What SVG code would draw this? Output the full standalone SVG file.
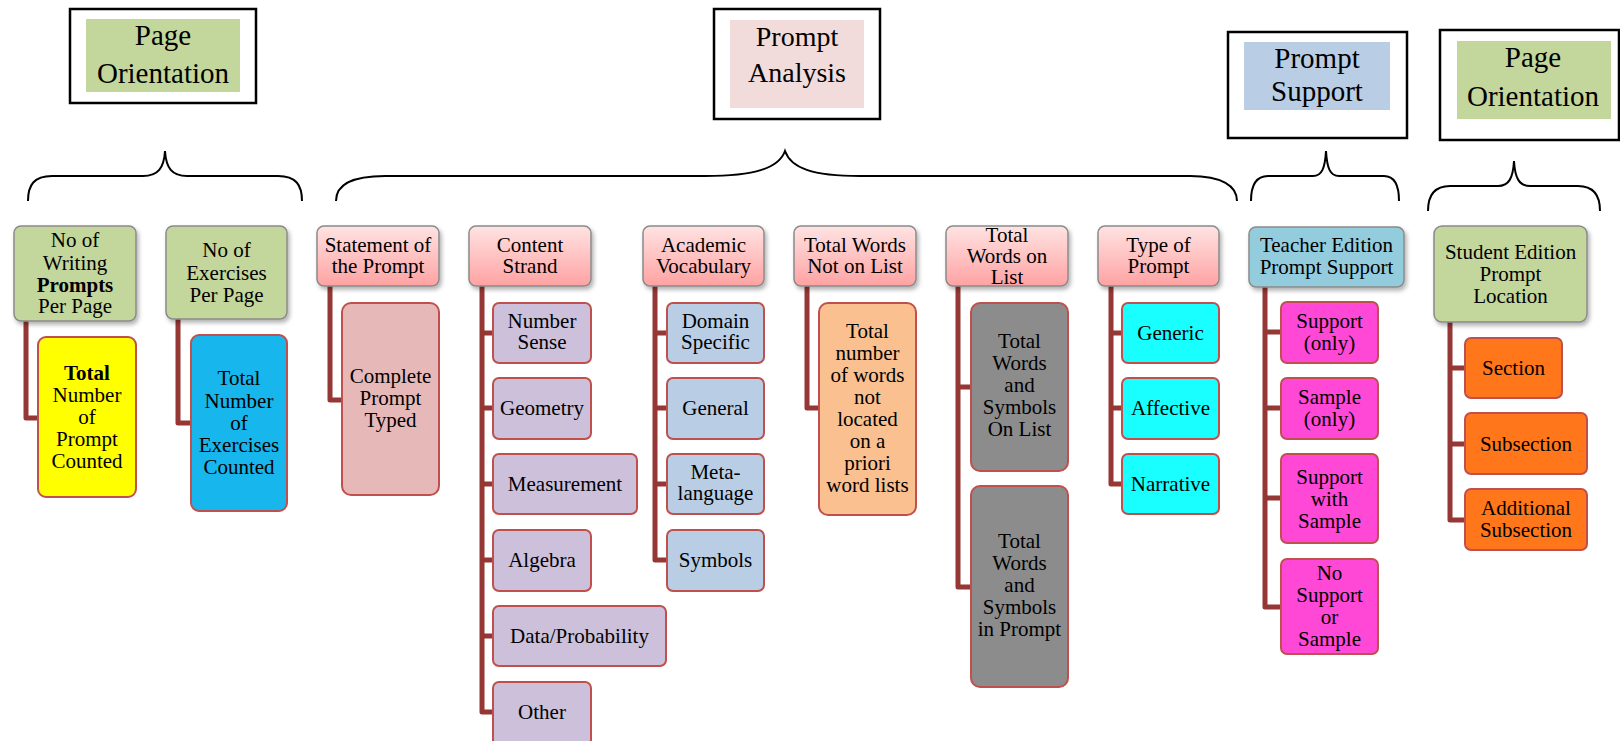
<svg xmlns="http://www.w3.org/2000/svg" width="1620" height="741" viewBox="0 0 1620 741" font-family="'Liberation Serif', 'Times New Roman', 'DejaVu Serif', serif">
  <style>
    text { font-family: 'Liberation Serif', 'Times New Roman', Times, 'DejaVu Serif', serif; fill: #000; text-anchor: middle; }
    .t { font-size: 21px; }
    .big { font-size: 29px; }
    .mid { font-size: 28px; }
    .b { font-weight: bold; }
    .hdr { stroke: #8a8a8a; stroke-width: 1.5; filter: url(#shadow); }
    .leaf { stroke: #c0504d; stroke-width: 2; }
    .conn { stroke: #953735; stroke-width: 5; fill: none; stroke-linejoin: round; }
    .frame { fill: #fff; stroke: #000; stroke-width: 2.5; }
    .brace { fill: none; stroke: #000; stroke-width: 2; }
    .green { fill: #c3d69b; }
    .pink { fill: url(#pinkGrad); }
  </style>
  <defs>
    <linearGradient id="pinkGrad" x1="0" y1="0" x2="0" y2="1">
      <stop offset="0" stop-color="#ffe3e3"/>
      <stop offset="1" stop-color="#ffa2a2"/>
    </linearGradient>
    <filter id="shadow" x="-10%" y="-10%" width="125%" height="130%">
      <feDropShadow dx="2" dy="3" stdDeviation="2" flood-color="#000" flood-opacity="0.3"/>
    </filter>
  </defs>

  <!-- category titles -->
  <g id="title-page-orientation-1">
    <rect class="frame" x="70" y="9" width="186" height="94"/>
    <rect x="86" y="19" width="154" height="73" fill="#c3d69b"/>
    <text class="big" x="163" y="45">Page</text>
    <text class="big" x="163" y="83">Orientation</text>
  </g>
  <g id="title-prompt-analysis">
    <rect class="frame" x="714" y="9" width="166" height="110"/>
    <rect x="730" y="20" width="134" height="88" fill="#f2dcdb"/>
    <text class="mid" x="797" y="46">Prompt</text>
    <text class="mid" x="797" y="82">Analysis</text>
  </g>
  <g id="title-prompt-support">
    <rect class="frame" x="1228" y="32" width="179" height="106"/>
    <rect x="1244" y="42" width="146" height="68" fill="#b9cde5"/>
    <text class="big" x="1317" y="68">Prompt</text>
    <text class="big" x="1317" y="101">Support</text>
  </g>
  <g id="title-page-orientation-2">
    <rect class="frame" x="1440" y="30" width="179" height="110"/>
    <rect x="1457" y="41" width="154" height="78" fill="#c3d69b"/>
    <text class="big" x="1533" y="67">Page</text>
    <text class="big" x="1533" y="106">Orientation</text>
  </g>

  <!-- curly braces -->
  <g id="braces">
    <path class="brace" d="M28,201 C28,185 34,176 52,176 H143 C158,176 164,168 165,151 C166,168 172,176 187,176 H278 C296,176 302,185 302,201"/>
    <path class="brace" d="M336,201 C336,186 350,176 385,176 H705 C755,176 779,168 785,151 C791,168 812,176 860,176 H1190 C1222,176 1237,186 1237,201"/>
    <path class="brace" d="M1251,201 C1251,186 1256,176 1268,176 H1313 C1322,176 1325,168 1326,151 C1327,168 1330,176 1339,176 H1384 C1395,176 1399,186 1399,201"/>
    <path class="brace" d="M1428,211 C1428,196 1434,186 1450,186 H1498 C1509,186 1513,178 1514,161 C1515,178 1519,186 1530,186 H1578 C1594,186 1600,196 1600,211"/>
  </g>

  <!-- connectors -->
  <g id="connectors">
    <path class="conn" d="M26,321 V418 H38"/>
    <path class="conn" d="M178,319 V423 H191"/>
    <path class="conn" d="M330,286 V400 H342"/>
    <path class="conn" d="M482,286 V712 H493 M482,333 H493 M482,408 H493 M482,484 H493 M482,560 H493 M482,636 H493"/>
    <path class="conn" d="M655,286 V560 H667 M655,333 H667 M655,408 H667 M655,484 H667"/>
    <path class="conn" d="M807,286 V408 H819"/>
    <path class="conn" d="M958,286 V587 H971 M958,387 H971"/>
    <path class="conn" d="M1111,286 V484 H1122 M1111,333 H1122 M1111,408 H1122"/>
    <path class="conn" d="M1265,287 V607 H1281 M1265,332 H1281 M1265,408 H1281 M1265,498 H1281"/>
    <path class="conn" d="M1450,322 V520 H1465 M1450,368 H1465 M1450,444 H1465"/>
  </g>

  <!-- Page orientation: prompts per page -->
  <g id="writing-prompts-per-page">
    <rect class="hdr green" x="14" y="226" width="122" height="95" rx="7"/>
    <text class="t" x="75" y="247">No of</text>
    <text class="t" x="75" y="270">Writing</text>
    <text class="t b" x="75" y="292">Prompts</text>
    <text class="t" x="75" y="313">Per Page</text>
  </g>
  <g id="total-prompts-counted">
    <rect class="leaf" x="38" y="337" width="98" height="160" rx="8" fill="#ffff00"/>
    <text class="t b" x="87" y="380">Total</text>
    <text class="t" x="87" y="402">Number</text>
    <text class="t" x="87" y="424">of</text>
    <text class="t" x="87" y="446">Prompt</text>
    <text class="t" x="87" y="468">Counted</text>
  </g>
  <g id="exercises-per-page">
    <rect class="hdr green" x="166" y="226" width="121" height="93" rx="7"/>
    <text class="t" x="226.5" y="257">No of</text>
    <text class="t" x="226.5" y="280">Exercises</text>
    <text class="t" x="226.5" y="302">Per Page</text>
  </g>
  <g id="total-exercises-counted">
    <rect class="leaf" x="191" y="335" width="96" height="176" rx="8" fill="#17b6ec"/>
    <text class="t" x="239" y="385">Total</text>
    <text class="t" x="239" y="408">Number</text>
    <text class="t" x="239" y="430">of</text>
    <text class="t" x="239" y="452">Exercises</text>
    <text class="t" x="239" y="474">Counted</text>
  </g>

  <!-- Prompt analysis -->
  <g id="statement-of-prompt">
    <rect class="hdr pink" x="317" y="226" width="122" height="60" rx="7"/>
    <text class="t" x="378" y="252">Statement of</text>
    <text class="t" x="378" y="273">the Prompt</text>
  </g>
  <g id="complete-prompt-typed">
    <rect class="leaf" x="342" y="303" width="97" height="192" rx="9" fill="#e6b9b8"/>
    <text class="t" x="390.5" y="383">Complete</text>
    <text class="t" x="390.5" y="405">Prompt</text>
    <text class="t" x="390.5" y="427">Typed</text>
  </g>

  <g id="content-strand">
    <rect class="hdr pink" x="469" y="226" width="122" height="60" rx="7"/>
    <text class="t" x="530" y="252">Content</text>
    <text class="t" x="530" y="273">Strand</text>
  </g>
  <g id="number-sense">
    <rect class="leaf" x="493" y="303" width="98" height="60" rx="6" fill="#ccc0da"/>
    <text class="t" x="542" y="328">Number</text>
    <text class="t" x="542" y="349">Sense</text>
  </g>
  <g id="geometry">
    <rect class="leaf" x="493" y="378" width="98" height="61" rx="6" fill="#ccc0da"/>
    <text class="t" x="542" y="415">Geometry</text>
  </g>
  <g id="measurement">
    <rect class="leaf" x="493" y="454" width="144" height="60" rx="6" fill="#ccc0da"/>
    <text class="t" x="565" y="491">Measurement</text>
  </g>
  <g id="algebra">
    <rect class="leaf" x="493" y="530" width="98" height="61" rx="6" fill="#ccc0da"/>
    <text class="t" x="542" y="567">Algebra</text>
  </g>
  <g id="data-probability">
    <rect class="leaf" x="493" y="606" width="173" height="60" rx="6" fill="#ccc0da"/>
    <text class="t" x="579.5" y="643">Data/Probability</text>
  </g>
  <g id="other">
    <rect class="leaf" x="493" y="682" width="98" height="64" rx="6" fill="#ccc0da"/>
    <text class="t" x="542" y="719">Other</text>
  </g>

  <g id="academic-vocabulary">
    <rect class="hdr pink" x="643" y="226" width="121" height="60" rx="7"/>
    <text class="t" x="703.5" y="252">Academic</text>
    <text class="t" x="703.5" y="273">Vocabulary</text>
  </g>
  <g id="domain-specific">
    <rect class="leaf" x="667" y="303" width="97" height="60" rx="6" fill="#b9cde5"/>
    <text class="t" x="715.5" y="328">Domain</text>
    <text class="t" x="715.5" y="349">Specific</text>
  </g>
  <g id="general">
    <rect class="leaf" x="667" y="378" width="97" height="61" rx="6" fill="#b9cde5"/>
    <text class="t" x="715.5" y="415">General</text>
  </g>
  <g id="metalanguage">
    <rect class="leaf" x="667" y="454" width="97" height="60" rx="6" fill="#b9cde5"/>
    <text class="t" x="715.5" y="479">Meta-</text>
    <text class="t" x="715.5" y="500">language</text>
  </g>
  <g id="symbols">
    <rect class="leaf" x="667" y="530" width="97" height="61" rx="6" fill="#b9cde5"/>
    <text class="t" x="715.5" y="567">Symbols</text>
  </g>

  <g id="words-not-on-list">
    <rect class="hdr pink" x="794" y="226" width="122" height="60" rx="7"/>
    <text class="t" x="855" y="252">Total Words</text>
    <text class="t" x="855" y="273">Not on List</text>
  </g>
  <g id="words-not-located">
    <rect class="leaf" x="819" y="303" width="97" height="212" rx="9" fill="#fac090"/>
    <text class="t" x="867.5" y="338">Total</text>
    <text class="t" x="867.5" y="360">number</text>
    <text class="t" x="867.5" y="382">of words</text>
    <text class="t" x="867.5" y="404">not</text>
    <text class="t" x="867.5" y="426">located</text>
    <text class="t" x="867.5" y="448">on a</text>
    <text class="t" x="867.5" y="470">priori</text>
    <text class="t" x="867.5" y="492">word lists</text>
  </g>

  <g id="words-on-list">
    <rect class="hdr pink" x="946" y="226" width="122" height="60" rx="7"/>
    <text class="t" x="1007" y="242">Total</text>
    <text class="t" x="1007" y="263">Words on</text>
    <text class="t" x="1007" y="284">List</text>
  </g>
  <g id="symbols-on-list">
    <rect class="leaf" x="971" y="303" width="97" height="168" rx="9" fill="#8c8c8c"/>
    <text class="t" x="1019.5" y="348">Total</text>
    <text class="t" x="1019.5" y="370">Words</text>
    <text class="t" x="1019.5" y="392">and</text>
    <text class="t" x="1019.5" y="414">Symbols</text>
    <text class="t" x="1019.5" y="436">On List</text>
  </g>
  <g id="symbols-in-prompt">
    <rect class="leaf" x="971" y="486" width="97" height="201" rx="9" fill="#8c8c8c"/>
    <text class="t" x="1019.5" y="548">Total</text>
    <text class="t" x="1019.5" y="570">Words</text>
    <text class="t" x="1019.5" y="592">and</text>
    <text class="t" x="1019.5" y="614">Symbols</text>
    <text class="t" x="1019.5" y="636">in Prompt</text>
  </g>

  <g id="type-of-prompt">
    <rect class="hdr pink" x="1098" y="226" width="121" height="60" rx="7"/>
    <text class="t" x="1158.5" y="252">Type of</text>
    <text class="t" x="1158.5" y="273">Prompt</text>
  </g>
  <g id="generic">
    <rect class="leaf" x="1122" y="303" width="97" height="60" rx="6" fill="#19ffff"/>
    <text class="t" x="1170.5" y="340">Generic</text>
  </g>
  <g id="affective">
    <rect class="leaf" x="1122" y="378" width="97" height="61" rx="6" fill="#19ffff"/>
    <text class="t" x="1170.5" y="415">Affective</text>
  </g>
  <g id="narrative">
    <rect class="leaf" x="1122" y="454" width="97" height="60" rx="6" fill="#19ffff"/>
    <text class="t" x="1170.5" y="491">Narrative</text>
  </g>

  <!-- Prompt support -->
  <g id="teacher-edition-support">
    <rect class="hdr" x="1249" y="227" width="155" height="60" rx="7" fill="#93cddd"/>
    <text class="t" x="1326.5" y="252">Teacher Edition</text>
    <text class="t" x="1326.5" y="274">Prompt Support</text>
  </g>
  <g id="support-only">
    <rect class="leaf" x="1281" y="302" width="97" height="61" rx="6" fill="#ff48d5"/>
    <text class="t" x="1329.5" y="328">Support</text>
    <text class="t" x="1329.5" y="350">(only)</text>
  </g>
  <g id="sample-only">
    <rect class="leaf" x="1281" y="378" width="97" height="61" rx="6" fill="#ff48d5"/>
    <text class="t" x="1329.5" y="404">Sample</text>
    <text class="t" x="1329.5" y="426">(only)</text>
  </g>
  <g id="support-with-sample">
    <rect class="leaf" x="1281" y="454" width="97" height="89" rx="6" fill="#ff48d5"/>
    <text class="t" x="1329.5" y="484">Support</text>
    <text class="t" x="1329.5" y="506">with</text>
    <text class="t" x="1329.5" y="528">Sample</text>
  </g>
  <g id="no-support-or-sample">
    <rect class="leaf" x="1281" y="559" width="97" height="95" rx="6" fill="#ff48d5"/>
    <text class="t" x="1329.5" y="580">No</text>
    <text class="t" x="1329.5" y="602">Support</text>
    <text class="t" x="1329.5" y="624">or</text>
    <text class="t" x="1329.5" y="646">Sample</text>
  </g>

  <!-- Page orientation: prompt location -->
  <g id="student-edition-location">
    <rect class="hdr green" x="1434" y="226" width="153" height="96" rx="8"/>
    <text class="t" x="1510.5" y="259">Student Edition</text>
    <text class="t" x="1510.5" y="281">Prompt</text>
    <text class="t" x="1510.5" y="303">Location</text>
  </g>
  <g id="section">
    <rect class="leaf" x="1465" y="338" width="97" height="60" rx="6" fill="#ff761b"/>
    <text class="t" x="1513.5" y="375">Section</text>
  </g>
  <g id="subsection">
    <rect class="leaf" x="1465" y="413" width="122" height="61" rx="6" fill="#ff761b"/>
    <text class="t" x="1526" y="451">Subsection</text>
  </g>
  <g id="additional-subsection">
    <rect class="leaf" x="1465" y="489" width="122" height="61" rx="6" fill="#ff761b"/>
    <text class="t" x="1526" y="515">Additional</text>
    <text class="t" x="1526" y="537">Subsection</text>
  </g>
</svg>
